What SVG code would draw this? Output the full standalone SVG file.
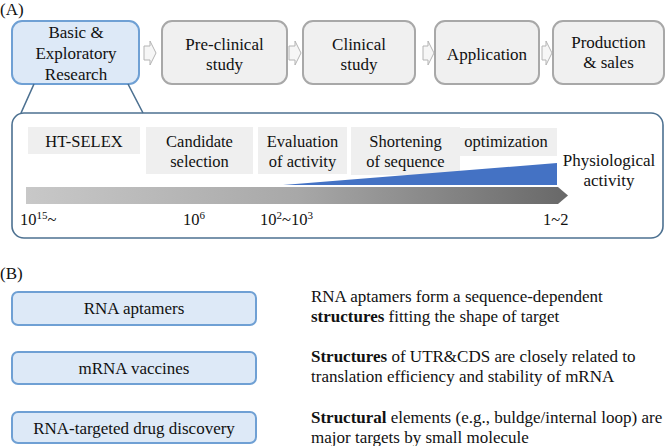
<svg xmlns="http://www.w3.org/2000/svg" width="667" height="446" viewBox="0 0 667 446" font-family="'Liberation Serif', 'Times New Roman', 'DejaVu Serif', serif">
<defs>
<linearGradient id="bar" x1="0" y1="0" x2="1" y2="0">
<stop offset="0" stop-color="#c8c8c8"/>
<stop offset="0.5" stop-color="#a8a8a8"/>
<stop offset="1" stop-color="#686868"/>
</linearGradient>
</defs>
<style>
text{font-family:'Liberation Serif','Times New Roman','DejaVu Serif',serif;fill:#111}
.t17{font-size:17px}
.t16{font-size:16.5px}
.mid{text-anchor:middle}
.gbox{fill:#f0f0f0;stroke:#a8a8a8;stroke-width:2}
.bbox{fill:#dde9f7;stroke:#6fa0d4;stroke-width:2}
.lab{fill:#efefef}
.blk{fill:#f6f6f6;stroke:#b4b4b4;stroke-width:1}
.frame{fill:none;stroke:#4d7191;stroke-width:1.6}
</style>
<text x="0" y="15" class="t17">(A)</text>
<text x="0" y="279" class="t17">(B)</text>

<g id="node-basic">
<rect x="12" y="21" width="127" height="63" rx="10" class="bbox"/>
<text class="t17 mid" x="76" y="38">Basic &amp;</text>
<text class="t17 mid" x="76" y="59">Exploratory</text>
<text class="t17 mid" x="76" y="80">Research</text>
</g>
<g id="node-preclinical">
<rect x="162" y="21" width="125" height="63" rx="10" class="gbox"/>
<text class="t17 mid" x="224.5" y="50">Pre-clinical</text>
<text class="t17 mid" x="224.5" y="70">study</text>
</g>
<g id="node-clinical">
<rect x="303" y="21" width="112" height="63" rx="10" class="gbox"/>
<text class="t17 mid" x="359" y="50">Clinical</text>
<text class="t17 mid" x="359" y="70">study</text>
</g>
<g id="node-application">
<rect x="435" y="21" width="104" height="63" rx="10" class="gbox"/>
<text class="t17 mid" x="487" y="60">Application</text>
</g>
<g id="node-production">
<rect x="553" y="21" width="111" height="63" rx="10" class="gbox"/>
<text class="t17 mid" x="608.5" y="48">Production</text>
<text class="t17 mid" x="608.5" y="68">&amp; sales</text>
</g>

<g id="connectors">
<path class="blk" d="M144,46 H150 V41 L156,53 L150,65 V60 H144 Z"/>
<path class="blk" d="M289,46 H295 V41 L301,53 L295,65 V60 H289 Z"/>
<path class="blk" d="M423,46 H428 V41 L434,53 L428,65 V60 H423 Z"/>
<path class="blk" d="M542,46 H546 V41 L552,53 L546,65 V60 H542 Z"/>
<path class="frame" d="M34,84 L21,113 M128,84 L143,113"/>
</g>

<g id="node-detail">
<rect x="12" y="113" width="651" height="125" rx="12" class="frame"/>
<rect x="28" y="127" width="112" height="27" class="lab"/>
<text class="t16 mid" x="84" y="147">HT-SELEX</text>
<rect x="146" y="127" width="107" height="47" class="lab"/>
<text class="t16 mid" x="199.5" y="147">Candidate</text>
<text class="t16 mid" x="199.5" y="167">selection</text>
<rect x="258" y="127" width="89" height="47" class="lab"/>
<text class="t16 mid" x="302.5" y="147">Evaluation</text>
<text class="t16 mid" x="302.5" y="167">of activity</text>
<rect x="351" y="127" width="109" height="48" class="lab"/>
<text class="t16 mid" x="405.5" y="147">Shortening</text>
<text class="t16 mid" x="405.5" y="167">of sequence</text>
<rect x="455" y="128" width="102" height="28" class="lab"/>
<text class="t16 mid" x="506" y="147">optimization</text>
<path d="M283,185 L557,163 L557,185 Z" fill="#4472c4"/>
<path d="M26,187 H558 L568,195.5 L558,204 H26 Z" fill="url(#bar)"/>
<text class="t17 mid" x="609" y="166">Physiological</text>
<text class="t17 mid" x="609" y="186">activity</text>
<text class="t16" x="20" y="225">10<tspan font-size="11" dy="-6">15</tspan><tspan dy="6">~</tspan></text>
<text class="t16" x="183" y="225">10<tspan font-size="11" dy="-6">6</tspan></text>
<text class="t16" x="260" y="225">10<tspan font-size="11" dy="-6">2</tspan><tspan dy="6">~10</tspan><tspan font-size="11" dy="-6">3</tspan></text>
<text class="t16" x="543" y="225">1~2</text>
</g>

<g id="node-aptamers">
<rect x="12" y="292" width="244" height="33" rx="6" class="bbox"/>
<text class="t17 mid" x="134" y="314">RNA aptamers</text>
</g>
<g id="node-vaccines">
<rect x="12" y="352" width="244" height="32" rx="6" class="bbox"/>
<text class="t17 mid" x="134" y="374">mRNA vaccines</text>
</g>
<g id="node-drug">
<rect x="12" y="412" width="244" height="31" rx="6" class="bbox"/>
<text class="t17 mid" x="134" y="434">RNA-targeted drug discovery</text>
</g>

<g id="descriptions">
<text class="t17" x="311" y="302">RNA aptamers form a sequence-dependent</text>
<text class="t17" x="311" y="322"><tspan font-weight="bold">structures</tspan> fitting the shape of target</text>
<text class="t17" x="311" y="362"><tspan font-weight="bold">Structures</tspan> of UTR&amp;CDS are closely related to</text>
<text class="t17" x="311" y="382">translation efficiency and stability of mRNA</text>
<text class="t17" x="311" y="423"><tspan font-weight="bold">Structural</tspan> elements (e.g., buldge/internal loop) are</text>
<text class="t17" x="311" y="443">major targets by small molecule</text>
</g>
</svg>
